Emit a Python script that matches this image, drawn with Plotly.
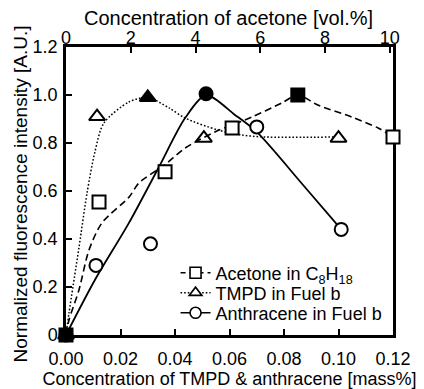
import plotly.graph_objects as go

# ---------------- data ----------------
# Acetone in C8H18 (top axis, vol.%)
acet_x = [0, 1.02, 3.06, 5.13, 7.16, 10.1]
acet_y = [0, 0.554, 0.68, 0.862, 1.0, 0.825]
acet_filled = [True, False, False, False, True, False]
acet_curve_x = [0, 0.093, 0.40, 0.71, 1.11, 1.95, 2.25, 3.06, 3.68, 4.6, 5.74, 6.67, 7.16, 7.78, 8.83, 9.64, 10.1]
acet_curve_y = [0, 0.0625, 0.1875, 0.354, 0.467, 0.575, 0.633, 0.71, 0.779, 0.846, 0.908, 0.967, 1.0, 0.958, 0.908, 0.8625, 0.825]

# TMPD in Fuel b (bottom axis, mass%)
tmpd_x = [0, 0.0114, 0.030, 0.0506, 0.10]
tmpd_y = [0, 0.91, 0.99, 0.82, 0.82]
tmpd_filled = [False, False, True, False, False]
tmpd_curve_x = [0, 0.0011, 0.0048, 0.0077, 0.0106, 0.0139, 0.0231, 0.030, 0.0378, 0.0437, 0.0558, 0.0646, 0.073, 0.10]
tmpd_curve_y = [0, 0.092, 0.367, 0.59, 0.7625, 0.883, 0.971, 0.99, 0.946, 0.904, 0.854, 0.833, 0.825, 0.825]

# Anthracene in Fuel b (bottom axis, mass%)
anth_x = [0, 0.011, 0.031, 0.0514, 0.070, 0.101]
anth_y = [0, 0.29, 0.38, 1.005, 0.867, 0.44]
anth_filled = [False, False, False, True, False, False]
anth_curve_x = [0, 0.0106, 0.0231, 0.0341, 0.0437, 0.0514, 0.062, 0.070, 0.087, 0.101]
anth_curve_y = [0, 0.229, 0.467, 0.70, 0.904, 1.0, 0.917, 0.846, 0.625, 0.44]

series_names = ["Acetone in C<sub>8</sub>H<sub>18</sub>", "TMPD in Fuel b", "Anthracene in Fuel b"]

y_ticks = [0, 0.2, 0.4, 0.6, 0.8, 1.0, 1.2]
y_ticktext = ["0", "0.2", "0.4", "0.6", "0.8", "1.0", "1.2"]
bottom_ticks = [0, 0.02, 0.04, 0.06, 0.08, 0.10, 0.12]
top_ticks = [0, 2, 4, 6, 8, 10]

x_title = "Concentration of TMPD &amp; anthracene [mass%]"
x2_title = "Concentration of acetone [vol.%]"
y_title = "Normalized fluorescence intensity [A.U.]"

# ---------------- figure ----------------
FONT = "Liberation Sans, Arial, Helvetica, sans-serif"
fig = go.Figure()

def fills(flags):
    return ["black" if f else "white" for f in flags]

DASH = "7px,4px"
DOT = "1.6px,2px"

# curves
fig.add_trace(go.Scatter(x=anth_curve_x, y=anth_curve_y, mode="lines", line=dict(color="black", width=1.8, shape="spline", smoothing=0.8), showlegend=False, cliponaxis=False))
fig.add_trace(go.Scatter(x=tmpd_curve_x, y=tmpd_curve_y, mode="lines", line=dict(color="black", width=1.5, dash=DOT, shape="spline", smoothing=0.8), showlegend=False, cliponaxis=False))
fig.add_trace(go.Scatter(x=acet_curve_x, y=acet_curve_y, xaxis="x2", mode="lines", line=dict(color="black", width=1.6, dash=DASH, shape="spline", smoothing=0.8), showlegend=False, cliponaxis=False))

# markers
mline = dict(color="black", width=2)
fig.add_trace(go.Scatter(x=anth_x, y=anth_y, mode="markers", marker=dict(symbol="circle", size=13, color=fills(anth_filled), line=mline), showlegend=False, cliponaxis=False))
fig.add_trace(go.Scatter(x=acet_x, y=acet_y, xaxis="x2", mode="markers", marker=dict(symbol="square", size=13, color=fills(acet_filled), line=mline), showlegend=False, cliponaxis=False))
fig.add_trace(go.Scatter(x=tmpd_x, y=tmpd_y, mode="markers", marker=dict(symbol="triangle-up", size=14, color=fills(tmpd_filled), line=mline), showlegend=False, cliponaxis=False))

# legend entries (one legend per row to control the row spacing)
leg_marker = dict(size=11, color="white", line=dict(color="black", width=1.6))
fig.add_trace(go.Scatter(x=[None], y=[None], name=series_names[0], legend="legend", mode="lines+markers", line=dict(color="black", width=1.5, dash="5px,4px"), marker=dict(symbol="square", **leg_marker)))
fig.add_trace(go.Scatter(x=[None], y=[None], name=series_names[1], legend="legend2", mode="lines+markers", line=dict(color="black", width=1.5, dash=DOT), marker=dict(symbol="triangle-up", **leg_marker)))
fig.add_trace(go.Scatter(x=[None], y=[None], name=series_names[2], legend="legend3", mode="lines+markers", line=dict(color="black", width=1.5), marker=dict(symbol="circle", **leg_marker)))

axis_common = dict(showgrid=False, zeroline=False, showline=True, linecolor="black", linewidth=2.5,
                   ticks="inside", ticklen=6, tickwidth=2, tickcolor="black", layer="below traces",
                   tickfont=dict(family=FONT, size=18, color="black"))

def leg(yc):
    return dict(x=0.335, y=yc, xanchor="left", yanchor="middle", bgcolor="rgba(0,0,0,0)",
                font=dict(family=FONT, size=18, color="black"), itemwidth=30)

fig.update_layout(
    width=424, height=389,
    margin=dict(l=66, r=31, t=47, b=54, autoexpand=False),
    paper_bgcolor="white", plot_bgcolor="white",
    font=dict(family=FONT, size=18, color="black"),
    xaxis=dict(range=[0, 0.12], tickvals=bottom_ticks, tickformat=".2f", ticklabelstandoff=6,
               title=dict(text=x_title, standoff=2, font=dict(size=18)),
               **axis_common),
    xaxis2=dict(range=[0, 10.1], tickvals=top_ticks, overlaying="x", side="top", anchor="y", ticklabelstandoff=-7,
                **axis_common),
    yaxis=dict(range=[0, 1.2], tickvals=y_ticks, ticktext=y_ticktext, mirror=True, ticklabelstandoff=2,
               **axis_common),
    legend=leg(0.215),
    legend2=leg(0.146),
    legend3=leg(0.076),
    annotations=[
        dict(text=x2_title, xref="paper", yref="paper", x=0.496, y=1.101, xanchor="center", yanchor="middle",
             showarrow=False, font=dict(family=FONT, size=20, color="black")),
        dict(text=y_title, xref="paper", yref="paper", x=-0.139, y=0.49, xanchor="center", yanchor="middle",
             textangle=-90, showarrow=False, font=dict(family=FONT, size=19, color="black")),
    ],
)

fig.write_html("out.html")
